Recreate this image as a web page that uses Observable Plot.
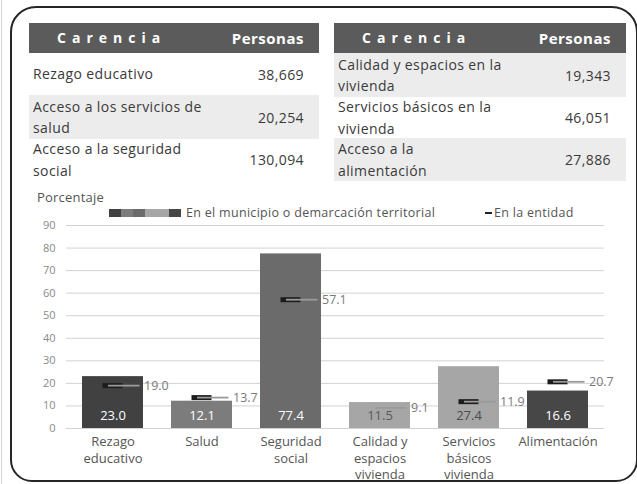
<!DOCTYPE html>
<html><head><meta charset="utf-8">
<script src="https://cdn.jsdelivr.net/npm/d3@7"></script>
<script src="https://cdn.jsdelivr.net/npm/@observablehq/plot@0.6"></script>
<style>
body{margin:0;width:637px;height:484px;overflow:hidden;background:#fff;font-family:"Open Sans",sans-serif;color:#3a3a3a;position:relative}
#edge{position:absolute;left:1px;top:0;width:1px;height:484px;background:#d4d4d4}
#frame{position:absolute;left:10px;top:6px;width:628px;height:476px;box-sizing:border-box;border:2.5px solid #262626;border-radius:26px 26px 22px 22px;pointer-events:none;z-index:5}
.tbl{position:absolute;top:23px}
.hdr{height:30px;background:#5b5b5b;color:#fff;font-weight:700;position:relative}
.hdr .c{position:absolute;left:28px;top:0;line-height:30px;font-size:14px;letter-spacing:6px}
.hdr .p{position:absolute;right:15px;top:0;line-height:30px;font-size:15px;letter-spacing:0.5px}
.row{position:relative;display:flex;align-items:center;font-size:14px;letter-spacing:0.4px}
.row .l{position:absolute;left:4px;white-space:pre-line;line-height:21.5px}
.row .v{position:absolute;right:15px}
#porc{position:absolute;left:37px;top:188px;font-size:13px;color:#555;letter-spacing:0.2px}
#leg{position:absolute;left:109px;top:204px;font-size:12.5px;color:#555;height:18px;letter-spacing:0.3px}
.sw{position:absolute;top:5px;width:12px;height:8px}
#chart{position:absolute;left:0;top:190px}
</style></head>
<body>
<div id="edge"></div>
<div id="frame"></div>
<div id="t1" class="tbl" style="left:29px;width:290px"></div>
<div id="t2" class="tbl" style="left:334px;width:292px"></div>
<div id="porc">Porcentaje</div>
<div id="leg"></div>
<div id="chart"></div>
<script>
// ---- data ----
const carencias = ["Rezago educativo", "Acceso a los servicios de\nsalud", "Acceso a la seguridad\nsocial",
  "Calidad y espacios en la\nvivienda", "Servicios básicos en la\nvivienda", "Acceso a la\nalimentación"];
const personas = [38669, 20254, 130094, 19343, 46051, 27886];
const categories = ["Rezago\neducativo", "Salud", "Seguridad\nsocial", "Calidad y\nespacios\nvivienda", "Servicios\nbásicos\nvivienda", "Alimentación"];
const municipio = [23.0, 12.1, 77.4, 11.5, 27.4, 16.6];
const entidad = [19.0, 13.7, 57.1, 9.1, 11.9, 20.7];
const yTicks = [0, 10, 20, 30, 40, 50, 60, 70, 80, 90];
const legendMunicipio = "En el municipio o demarcación territorial";
const legendEntidad = "En la entidad";

// ---- styles ----
const barColors = ["#414141", "#7c7c7c", "#6b6b6b", "#a6a6a6", "#a6a6a6", "#474747"];
const valueColors = ["#ffffff", "#ffffff", "#ffffff", "#5a5a5a", "#4a4a4a", "#ffffff"];

// ---- tables ----
const fmt = d3.format(",");
function buildTable(el, idx, shades, heights) {
  el.innerHTML = '<div class="hdr"><span class="c">Carencia</span><span class="p">Personas</span></div>';
  idx.forEach((i, k) => {
    const r = document.createElement("div");
    r.className = "row";
    r.style.height = heights[k] + "px";
    r.style.background = shades[k] ? "#ececec" : "#fff";
    r.innerHTML = `<span class="l"></span><span class="v">${fmt(personas[i])}</span>`;
    r.querySelector(".l").textContent = carencias[i];
    el.appendChild(r);
  });
}
buildTable(document.getElementById("t1"), [0, 1, 2], [0, 1, 0], [42, 44, 41]);
buildTable(document.getElementById("t2"), [3, 4, 5], [1, 0, 1], [44, 41, 43]);

// ---- legend ----
const leg = document.getElementById("leg");
barColors.forEach((c, i) => {
  const s = document.createElement("div");
  s.className = "sw"; s.style.left = (i * 12) + "px"; s.style.background = c;
  leg.appendChild(s);
});
leg.insertAdjacentHTML("beforeend",
  `<span style="position:absolute;left:77px;top:0;white-space:nowrap;line-height:18px">${legendMunicipio}</span>
   <span style="position:absolute;left:376px;top:8px;width:7px;height:2px;background:#222"></span>
   <span style="position:absolute;left:385px;top:0;white-space:nowrap;line-height:18px">${legendEntidad}</span>`);

// ---- chart ----
const data = categories.map((c, i) => ({cat: c, mun: municipio[i], ent: entidad[i], i}));
const chart = Plot.plot({
  width: 637, height: 294,
  marginLeft: 66, marginRight: 33, marginTop: 35, marginBottom: 56,
  style: {fontFamily: "Open Sans", background: "transparent", overflow: "visible"},
  x: {domain: categories, paddingInner: 0.32, paddingOuter: 0.16, label: null},
  y: {domain: [0, 90], label: null},
  color: {domain: categories, range: barColors},
  marks: [
    Plot.ruleY(yTicks, {stroke: "#d2d2d2", strokeWidth: 1}),
    Plot.axisY({ticks: yTicks, tickSize: 0, tickPadding: 11, fontSize: 11, fill: "#8a8a8a", label: null}),
    Plot.axisX({tickSize: 0, tickPadding: 6, fontSize: 13, fill: "#555", lineHeight: 1.26, label: null, style: {letterSpacing: "0.8px"}}),
    Plot.barY(data, {x: "cat", y: "mun", fill: "cat"}),
    Plot.tickY(data.filter(d => d.i !== 3), {x: "cat", y: "ent", stroke: "#1c1c1c", strokeWidth: 5, insetLeft: 20.5, insetRight: 20.5}),
    Plot.tickY(data, {x: "cat", y: "ent", stroke: "#9a9a9a", strokeWidth: 1.8, insetLeft: 26, insetRight: 3.5}),
    Plot.text(data, {x: "cat", y: "ent", text: d => d.ent.toFixed(1), dx: 31, textAnchor: "start", fill: "#7a7a7a", fontSize: 12.5}),
    Plot.text(data, {x: "cat", y: () => 0, dy: -13, text: d => d.mun.toFixed(1), fill: d => valueColors[d.i], fontSize: 13})
  ]
});
document.getElementById("chart").appendChild(chart);
</script>
</body></html>
